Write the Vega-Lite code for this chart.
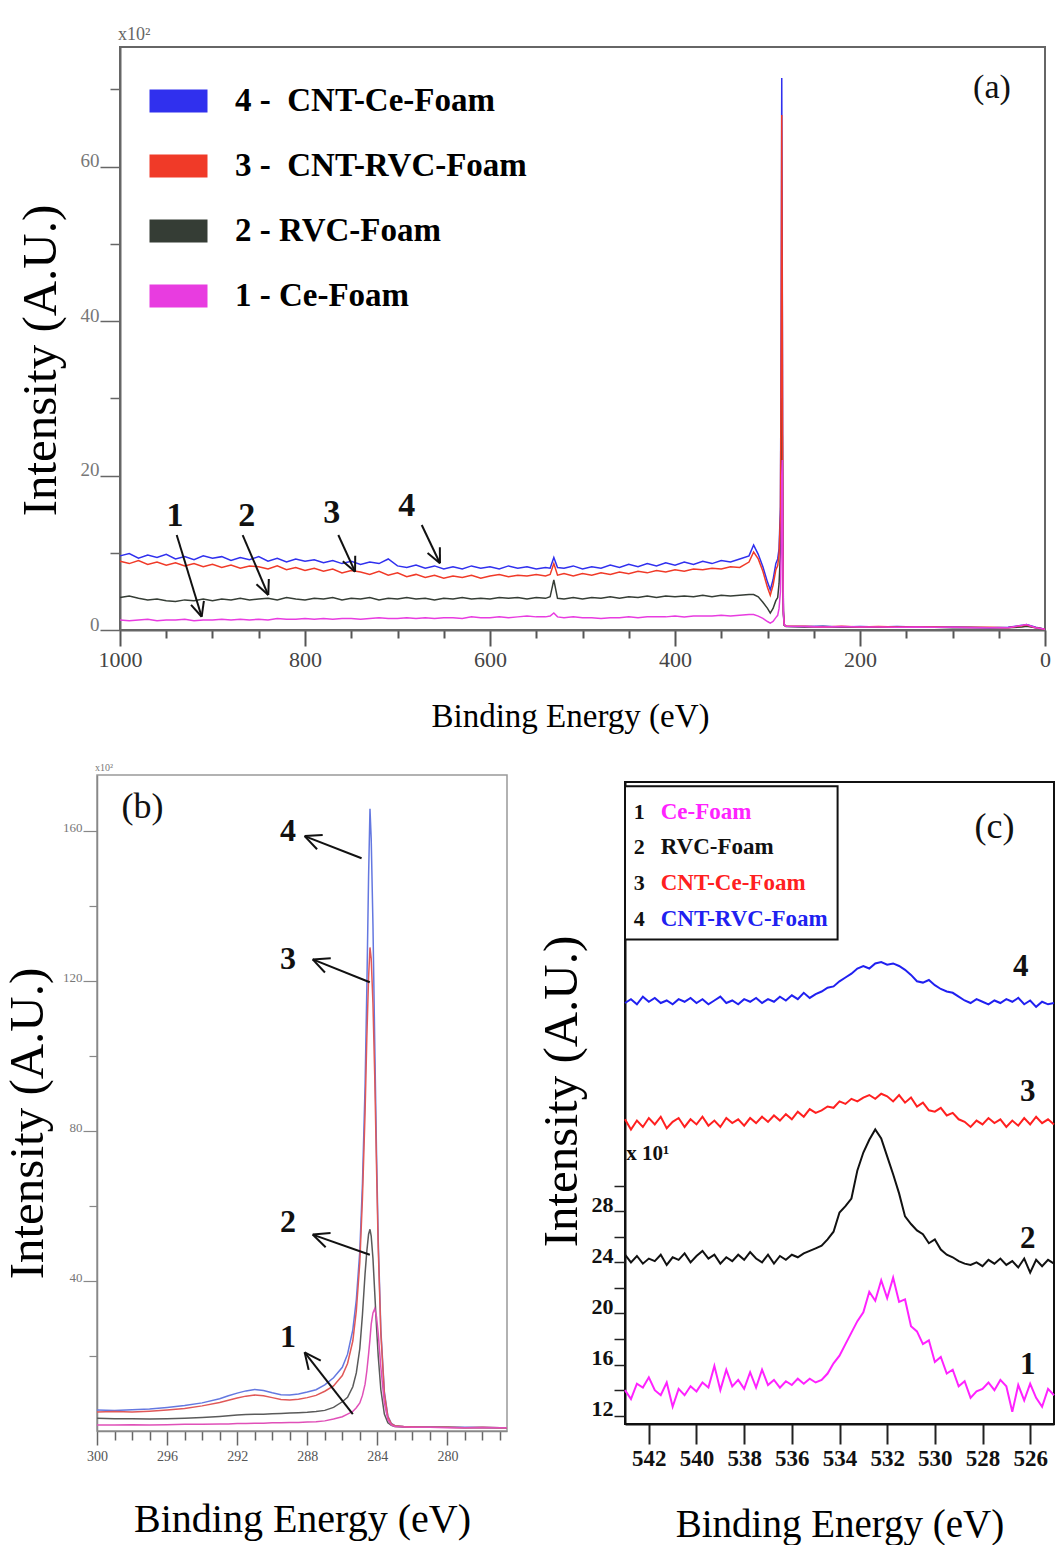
{
"$schema": "https://vega.github.io/schema/vega-lite/v6.json",
"padding": {"left": 2, "top": 25, "right": 0, "bottom": 0},
"config": {
 "view": {"stroke": null},
 "font": "Liberation Serif",
 "axis": {"grid": false, "labelFont": "Liberation Serif", "titleFont": "Liberation Serif", "titleFontWeight": "normal", "titleColor": "#000", "labelOverlap": false, "labelFlush": false},
 "text": {"font": "Liberation Serif"},
 "title": {"font": "Liberation Serif"}
},
"datasets": {
 "A": [
{"x":1000,"s4":9.6,"s3":8.9,"s2":4.2,"s1":1.3},
{"x":990,"s4":9.9,"s3":8.6,"s2":4.4,"s1":1.2},
{"x":980,"s4":9.3,"s3":9.0,"s2":4.1,"s1":1.3},
{"x":970,"s4":9.7,"s3":8.5,"s2":3.9,"s1":1.4},
{"x":960,"s4":9.4,"s3":8.8,"s2":4.0,"s1":1.2},
{"x":950,"s4":9.8,"s3":8.4,"s2":3.8,"s1":1.3},
{"x":940,"s4":9.2,"s3":8.7,"s2":3.7,"s1":1.3},
{"x":930,"s4":9.5,"s3":8.3,"s2":3.9,"s1":1.4},
{"x":920,"s4":9.1,"s3":8.6,"s2":3.8,"s1":1.2},
{"x":910,"s4":9.6,"s3":8.2,"s2":4.0,"s1":1.3},
{"x":900,"s4":9.3,"s3":8.5,"s2":3.8,"s1":1.3},
{"x":890,"s4":9.5,"s3":8.1,"s2":4.0,"s1":1.4},
{"x":880,"s4":9.0,"s3":8.4,"s2":3.9,"s1":1.3},
{"x":870,"s4":9.4,"s3":8.0,"s2":4.1,"s1":1.4},
{"x":860,"s4":9.1,"s3":8.3,"s2":3.9,"s1":1.3},
{"x":850,"s4":9.5,"s3":8.2,"s2":4.0,"s1":1.4},
{"x":840,"s4":8.9,"s3":7.9,"s2":4.1,"s1":1.3},
{"x":830,"s4":9.3,"s3":8.3,"s2":3.9,"s1":1.5},
{"x":820,"s4":8.8,"s3":7.8,"s2":4.2,"s1":1.4},
{"x":810,"s4":9.2,"s3":8.1,"s2":4.0,"s1":1.4},
{"x":800,"s4":8.9,"s3":7.7,"s2":3.9,"s1":1.5},
{"x":790,"s4":9.1,"s3":8.0,"s2":4.1,"s1":1.4},
{"x":780,"s4":8.7,"s3":7.6,"s2":4.0,"s1":1.5},
{"x":770,"s4":9.0,"s3":7.9,"s2":4.2,"s1":1.4},
{"x":760,"s4":8.6,"s3":7.4,"s2":3.9,"s1":1.5},
{"x":750,"s4":8.9,"s3":7.7,"s2":4.1,"s1":1.5},
{"x":740,"s4":8.5,"s3":7.5,"s2":4.0,"s1":1.4},
{"x":730,"s4":8.8,"s3":7.2,"s2":4.2,"s1":1.5},
{"x":720,"s4":8.6,"s3":7.6,"s2":3.9,"s1":1.6},
{"x":710,"s4":9.2,"s3":7.1,"s2":4.1,"s1":1.5},
{"x":700,"s4":8.3,"s3":7.4,"s2":4.0,"s1":1.5},
{"x":690,"s4":8.1,"s3":6.9,"s2":4.2,"s1":1.6},
{"x":680,"s4":8.4,"s3":7.2,"s2":4.0,"s1":1.5},
{"x":670,"s4":8.0,"s3":6.8,"s2":4.1,"s1":1.6},
{"x":660,"s4":8.3,"s3":7.1,"s2":3.9,"s1":1.5},
{"x":650,"s4":7.9,"s3":6.7,"s2":4.1,"s1":1.6},
{"x":640,"s4":8.2,"s3":7.0,"s2":4.0,"s1":1.6},
{"x":630,"s4":7.9,"s3":6.8,"s2":4.2,"s1":1.5},
{"x":620,"s4":8.3,"s3":7.1,"s2":4.0,"s1":1.7},
{"x":610,"s4":8.0,"s3":6.7,"s2":4.1,"s1":1.6},
{"x":600,"s4":8.2,"s3":7.0,"s2":4.0,"s1":1.6},
{"x":590,"s4":7.9,"s3":7.2,"s2":4.2,"s1":1.7},
{"x":580,"s4":8.3,"s3":6.9,"s2":4.1,"s1":1.6},
{"x":570,"s4":8.0,"s3":7.1,"s2":4.2,"s1":1.7},
{"x":560,"s4":8.2,"s3":7.0,"s2":4.0,"s1":1.8},
{"x":550,"s4":7.9,"s3":7.2,"s2":4.2,"s1":1.7},
{"x":540,"s4":8.1,"s3":7.0,"s2":4.1,"s1":1.7},
{"x":535,"s4":8.0,"s3":7.2,"s2":4.3,"s1":1.8},
{"x":531,"s4":9.4,"s3":8.6,"s2":6.5,"s1":2.2},
{"x":527,"s4":8.1,"s3":7.1,"s2":4.1,"s1":1.7},
{"x":520,"s4":8.0,"s3":7.3,"s2":4.0,"s1":1.6},
{"x":510,"s4":8.3,"s3":7.0,"s2":4.2,"s1":1.7},
{"x":500,"s4":7.9,"s3":7.3,"s2":4.0,"s1":1.6},
{"x":490,"s4":8.2,"s3":7.1,"s2":4.2,"s1":1.6},
{"x":480,"s4":8.0,"s3":7.4,"s2":4.1,"s1":1.5},
{"x":470,"s4":8.4,"s3":7.2,"s2":4.3,"s1":1.6},
{"x":460,"s4":8.1,"s3":7.5,"s2":4.1,"s1":1.6},
{"x":450,"s4":8.5,"s3":7.3,"s2":4.3,"s1":1.7},
{"x":440,"s4":8.2,"s3":7.6,"s2":4.2,"s1":1.6},
{"x":430,"s4":8.6,"s3":7.4,"s2":4.4,"s1":1.7},
{"x":420,"s4":8.3,"s3":7.7,"s2":4.2,"s1":1.7},
{"x":410,"s4":8.7,"s3":7.5,"s2":4.4,"s1":1.7},
{"x":400,"s4":8.4,"s3":7.8,"s2":4.3,"s1":1.8},
{"x":390,"s4":8.8,"s3":7.6,"s2":4.4,"s1":1.7},
{"x":380,"s4":8.5,"s3":7.9,"s2":4.3,"s1":1.8},
{"x":370,"s4":8.9,"s3":7.8,"s2":4.5,"s1":1.8},
{"x":360,"s4":8.6,"s3":8.0,"s2":4.3,"s1":1.8},
{"x":350,"s4":9.0,"s3":7.9,"s2":4.5,"s1":1.9},
{"x":340,"s4":8.8,"s3":8.2,"s2":4.4,"s1":1.8},
{"x":330,"s4":9.2,"s3":8.1,"s2":4.5,"s1":1.9},
{"x":320,"s4":9.6,"s3":8.8,"s2":4.6,"s1":2.0},
{"x":315,"s4":11.0,"s3":10.1,"s2":4.6,"s1":2.0},
{"x":310,"s4":9.8,"s3":9.2,"s2":4.3,"s1":1.8},
{"x":305,"s4":8.2,"s3":7.6,"s2":3.6,"s1":1.5},
{"x":300,"s4":6.2,"s3":5.5,"s2":2.8,"s1":1.1},
{"x":297,"s4":5.2,"s3":4.5,"s2":2.2,"s1":0.9},
{"x":294,"s4":6.5,"s3":5.8,"s2":2.8,"s1":1.1},
{"x":291,"s4":8.6,"s3":7.8,"s2":3.8,"s1":1.6},
{"x":289,"s4":9.2,"s3":8.3,"s2":4.2,"s1":1.9},
{"x":287.5,"s4":10.5,"s3":9.8,"s2":6.0,"s1":2.8},
{"x":286,"s4":16,"s3":15,"s2":10,"s1":5},
{"x":285.2,"s4":40,"s3":37,"s2":20,"s1":10},
{"x":284.6,"s4":71.5,"s3":66.7,"s2":30,"s1":20},
{"x":284.0,"s4":45,"s3":42,"s2":25,"s1":22},
{"x":283.4,"s4":12,"s3":11,"s2":8,"s1":9},
{"x":282.8,"s4":2.5,"s3":2.4,"s2":2.0,"s1":2.2},
{"x":282,"s4":0.7,"s3":0.7,"s2":0.6,"s1":0.7},
{"x":280,"s4":0.5,"s3":0.5,"s2":0.45,"s1":0.5},
{"x":260,"s4":0.45,"s3":0.5,"s2":0.4,"s1":0.45},
{"x":240,"s4":0.5,"s3":0.4,"s2":0.45,"s1":0.4},
{"x":220,"s4":0.4,"s3":0.5,"s2":0.4,"s1":0.45},
{"x":200,"s4":0.45,"s3":0.4,"s2":0.4,"s1":0.4},
{"x":180,"s4":0.4,"s3":0.45,"s2":0.35,"s1":0.4},
{"x":160,"s4":0.45,"s3":0.4,"s2":0.4,"s1":0.35},
{"x":140,"s4":0.4,"s3":0.4,"s2":0.35,"s1":0.4},
{"x":120,"s4":0.35,"s3":0.4,"s2":0.35,"s1":0.35},
{"x":100,"s4":0.4,"s3":0.35,"s2":0.3,"s1":0.35},
{"x":80,"s4":0.35,"s3":0.35,"s2":0.3,"s1":0.3},
{"x":60,"s4":0.3,"s3":0.35,"s2":0.3,"s1":0.3},
{"x":40,"s4":0.35,"s3":0.3,"s2":0.3,"s1":0.3},
{"x":25,"s4":0.6,"s3":0.55,"s2":0.4,"s1":0.6},
{"x":20,"s4":0.7,"s3":0.65,"s2":0.5,"s1":0.7},
{"x":10,"s4":0.35,"s3":0.3,"s2":0.3,"s1":0.3},
{"x":0,"s4":0.1,"s3":0.1,"s2":0.1,"s1":0.1}
 ],
 "B": [
{"x":300,"s4":5.6,"s3":5.1,"s2":3.4,"s1":1.6},
{"x":299,"s4":5.5,"s3":5.2,"s2":3.3,"s1":1.6},
{"x":298,"s4":5.7,"s3":5.1,"s2":3.3,"s1":1.7},
{"x":297,"s4":5.9,"s3":5.3,"s2":3.2,"s1":1.6},
{"x":296,"s4":6.3,"s3":5.6,"s2":3.3,"s1":1.7},
{"x":295,"s4":6.8,"s3":6.0,"s2":3.4,"s1":1.8},
{"x":294,"s4":7.5,"s3":6.7,"s2":3.6,"s1":1.8},
{"x":293,"s4":8.6,"s3":7.6,"s2":3.9,"s1":1.9},
{"x":292.5,"s4":9.4,"s3":8.2,"s2":4.1,"s1":1.9},
{"x":292,"s4":10.1,"s3":8.8,"s2":4.3,"s1":2.0},
{"x":291.5,"s4":10.7,"s3":9.3,"s2":4.4,"s1":2.0},
{"x":291,"s4":11.1,"s3":9.6,"s2":4.5,"s1":2.1},
{"x":290.5,"s4":10.8,"s3":9.4,"s2":4.5,"s1":2.1},
{"x":290,"s4":10.2,"s3":8.9,"s2":4.6,"s1":2.2},
{"x":289.5,"s4":9.7,"s3":8.4,"s2":4.7,"s1":2.2},
{"x":289,"s4":9.6,"s3":8.3,"s2":4.8,"s1":2.3},
{"x":288.5,"s4":9.9,"s3":8.5,"s2":4.9,"s1":2.3},
{"x":288,"s4":10.4,"s3":8.9,"s2":5.0,"s1":2.4},
{"x":287.5,"s4":11.0,"s3":9.5,"s2":5.2,"s1":2.5},
{"x":287,"s4":12.3,"s3":10.6,"s2":5.5,"s1":2.7},
{"x":286.5,"s4":14.2,"s3":12.0,"s2":6.3,"s1":3.2},
{"x":286,"s4":17.0,"s3":14.8,"s2":7.8,"s1":3.8},
{"x":285.7,"s4":20.5,"s3":18.0,"s2":9.0,"s1":4.5},
{"x":285.4,"s4":27,"s3":24,"s2":11.8,"s1":5.2},
{"x":285.2,"s4":35,"s3":32,"s2":15.5,"s1":6.2},
{"x":285.0,"s4":48,"s3":45,"s2":22,"s1":7.5},
{"x":284.85,"s4":66,"s3":62,"s2":31,"s1":9.5},
{"x":284.7,"s4":92,"s3":85,"s2":42,"s1":12.5},
{"x":284.6,"s4":118,"s3":105,"s2":48,"s1":16},
{"x":284.5,"s4":148,"s3":121,"s2":52.5,"s1":20.5},
{"x":284.42,"s4":166,"s3":129,"s2":53.8,"s1":24.5},
{"x":284.35,"s4":158,"s3":126,"s2":52,"s1":28.5},
{"x":284.25,"s4":135,"s3":114,"s2":46,"s1":31.5},
{"x":284.15,"s4":104,"s3":95,"s2":37,"s1":32.6},
{"x":284.05,"s4":75,"s3":71,"s2":28,"s1":30.5},
{"x":283.95,"s4":51,"s3":49,"s2":20,"s1":26},
{"x":283.8,"s4":27,"s3":26,"s2":11,"s1":17},
{"x":283.6,"s4":10.5,"s3":10,"s2":4.5,"s1":7.5},
{"x":283.4,"s4":4.0,"s3":3.8,"s2":2.2,"s1":3.0},
{"x":283.2,"s4":2.0,"s3":1.9,"s2":1.5,"s1":1.6},
{"x":283.0,"s4":1.4,"s3":1.4,"s2":1.2,"s1":1.2},
{"x":282.5,"s4":1.2,"s3":1.2,"s2":1.1,"s1":1.1},
{"x":282,"s4":1.1,"s3":1.1,"s2":1.0,"s1":1.0},
{"x":281,"s4":1.1,"s3":1.0,"s2":1.0,"s1":1.0},
{"x":280,"s4":1.0,"s3":1.0,"s2":1.0,"s1":0.9},
{"x":279,"s4":1.0,"s3":0.9,"s2":0.9,"s1":0.9},
{"x":278,"s4":1.0,"s3":1.0,"s2":0.9,"s1":0.9},
{"x":277,"s4":0.9,"s3":0.9,"s2":0.9,"s1":0.9},
{"x":276.6,"s4":0.9,"s3":0.9,"s2":0.9,"s1":0.9}
 ],
 "C": [
{"x":543.00,"s4":44.3,"s3":35.2,"s2":24.6,"s1":14.0},
{"x":542.75,"s4":44.6,"s3":34.4,"s2":24.0,"s1":13.3},
{"x":542.50,"s4":44.2,"s3":35.1,"s2":24.5,"s1":14.5},
{"x":542.25,"s4":44.8,"s3":34.6,"s2":23.9,"s1":14.2},
{"x":542.00,"s4":44.4,"s3":35.3,"s2":24.3,"s1":15.0},
{"x":541.75,"s4":44.7,"s3":34.8,"s2":24.1,"s1":14.0},
{"x":541.50,"s4":44.3,"s3":35.4,"s2":24.6,"s1":13.6},
{"x":541.25,"s4":44.5,"s3":34.5,"s2":23.8,"s1":14.6},
{"x":541.00,"s4":44.2,"s3":35.0,"s2":24.4,"s1":12.7},
{"x":540.75,"s4":44.6,"s3":35.3,"s2":24.2,"s1":14.1},
{"x":540.50,"s4":44.4,"s3":34.6,"s2":24.7,"s1":13.6},
{"x":540.25,"s4":44.7,"s3":35.2,"s2":24.0,"s1":14.3},
{"x":540.00,"s4":44.3,"s3":34.8,"s2":24.5,"s1":13.9},
{"x":539.75,"s4":44.6,"s3":35.4,"s2":24.9,"s1":14.6},
{"x":539.50,"s4":44.2,"s3":34.7,"s2":24.3,"s1":14.2},
{"x":539.25,"s4":44.5,"s3":35.1,"s2":24.6,"s1":15.9},
{"x":539.00,"s4":44.8,"s3":34.6,"s2":23.9,"s1":14.0},
{"x":538.75,"s4":44.3,"s3":35.3,"s2":24.4,"s1":15.6},
{"x":538.50,"s4":44.5,"s3":34.9,"s2":24.1,"s1":14.3},
{"x":538.25,"s4":44.2,"s3":35.2,"s2":24.6,"s1":14.8},
{"x":538.00,"s4":44.6,"s3":34.7,"s2":24.2,"s1":14.1},
{"x":537.75,"s4":44.4,"s3":35.3,"s2":24.8,"s1":15.4},
{"x":537.50,"s4":44.7,"s3":34.9,"s2":24.3,"s1":14.2},
{"x":537.25,"s4":44.3,"s3":35.4,"s2":24.0,"s1":15.6},
{"x":537.00,"s4":44.6,"s3":35.0,"s2":24.6,"s1":14.4},
{"x":536.75,"s4":44.4,"s3":35.5,"s2":23.9,"s1":14.8},
{"x":536.50,"s4":44.8,"s3":35.1,"s2":24.5,"s1":14.2},
{"x":536.25,"s4":44.5,"s3":35.6,"s2":24.2,"s1":14.7},
{"x":536.00,"s4":44.9,"s3":35.2,"s2":24.6,"s1":14.4},
{"x":535.75,"s4":44.6,"s3":35.8,"s2":24.4,"s1":14.9},
{"x":535.50,"s4":45.1,"s3":35.4,"s2":24.7,"s1":14.5},
{"x":535.25,"s4":44.7,"s3":36.0,"s2":24.9,"s1":14.9},
{"x":535.00,"s4":45.0,"s3":35.7,"s2":25.1,"s1":14.6},
{"x":534.75,"s4":45.2,"s3":35.9,"s2":25.3,"s1":14.8},
{"x":534.50,"s4":45.5,"s3":36.2,"s2":25.8,"s1":15.3},
{"x":534.25,"s4":45.6,"s3":36.1,"s2":26.4,"s1":16.1},
{"x":534.00,"s4":46.0,"s3":36.6,"s2":27.9,"s1":16.7},
{"x":533.75,"s4":46.3,"s3":36.4,"s2":28.4,"s1":17.6},
{"x":533.50,"s4":46.6,"s3":36.8,"s2":29.0,"s1":18.5},
{"x":533.25,"s4":47.0,"s3":36.6,"s2":31.2,"s1":19.4},
{"x":533.00,"s4":47.2,"s3":36.9,"s2":32.6,"s1":20.1},
{"x":532.75,"s4":47.0,"s3":37.1,"s2":33.6,"s1":21.7},
{"x":532.50,"s4":47.4,"s3":36.8,"s2":34.4,"s1":21.0},
{"x":532.25,"s4":47.5,"s3":37.2,"s2":33.7,"s1":22.6},
{"x":532.00,"s4":47.3,"s3":37.0,"s2":32.3,"s1":21.2},
{"x":531.75,"s4":47.4,"s3":36.6,"s2":30.9,"s1":22.8},
{"x":531.50,"s4":47.2,"s3":37.1,"s2":29.4,"s1":20.9},
{"x":531.25,"s4":46.9,"s3":36.5,"s2":27.6,"s1":21.1},
{"x":531.00,"s4":46.5,"s3":36.9,"s2":27.0,"s1":19.0},
{"x":530.75,"s4":46.0,"s3":36.2,"s2":26.5,"s1":18.6},
{"x":530.50,"s4":45.9,"s3":36.5,"s2":26.2,"s1":17.6},
{"x":530.25,"s4":46.1,"s3":35.9,"s2":25.5,"s1":17.9},
{"x":530.00,"s4":45.7,"s3":35.8,"s2":25.8,"s1":16.2},
{"x":529.75,"s4":45.4,"s3":36.1,"s2":25.0,"s1":16.6},
{"x":529.50,"s4":45.2,"s3":35.5,"s2":24.6,"s1":15.3},
{"x":529.25,"s4":45.1,"s3":35.7,"s2":24.4,"s1":15.6},
{"x":529.00,"s4":44.8,"s3":35.2,"s2":24.1,"s1":14.3},
{"x":528.75,"s4":44.5,"s3":35.0,"s2":23.9,"s1":14.7},
{"x":528.50,"s4":44.3,"s3":34.6,"s2":23.8,"s1":13.4},
{"x":528.25,"s4":44.6,"s3":35.1,"s2":24.0,"s1":13.9},
{"x":528.00,"s4":44.4,"s3":34.8,"s2":23.7,"s1":14.1},
{"x":527.75,"s4":44.2,"s3":35.3,"s2":24.2,"s1":14.6},
{"x":527.50,"s4":44.5,"s3":34.9,"s2":23.9,"s1":14.0},
{"x":527.25,"s4":44.3,"s3":35.2,"s2":24.3,"s1":14.8},
{"x":527.00,"s4":44.6,"s3":34.6,"s2":23.8,"s1":14.3},
{"x":526.75,"s4":44.4,"s3":35.1,"s2":24.1,"s1":12.3},
{"x":526.50,"s4":44.7,"s3":34.7,"s2":23.6,"s1":14.4},
{"x":526.25,"s4":44.2,"s3":35.3,"s2":24.3,"s1":13.2},
{"x":526.00,"s4":44.5,"s3":34.8,"s2":23.2,"s1":14.5},
{"x":525.75,"s4":44.0,"s3":35.4,"s2":24.2,"s1":13.4},
{"x":525.50,"s4":44.4,"s3":34.9,"s2":23.7,"s1":12.7},
{"x":525.25,"s4":44.2,"s3":35.2,"s2":24.2,"s1":14.1},
{"x":525.00,"s4":44.3,"s3":34.8,"s2":23.9,"s1":13.6}
 ]
},
"vconcat": [
 {
  "hconcat": [
   {"width": 3, "height": 10, "data": {"values": [{"a": 1}]}, "mark": {"type": "point", "opacity": 0}},
   {
    "width": 925, "height": 583,
    "view": {"stroke": "#666", "strokeWidth": 2},
    "title": {"text": "x10²", "anchor": "start", "frame": "group", "fontSize": 18, "fontWeight": "normal", "color": "#666", "offset": 3, "dx": -2},
    "layer": [
     {
      "data": {"name": "A"},
      "transform": [{"fold": ["s4", "s2", "s3", "s1"], "as": ["s", "v"]}],
      "mark": {"type": "line", "strokeWidth": 1.5},
      "encoding": {
       "x": {"field": "x", "type": "quantitative", "scale": {"domain": [0, 1000], "reverse": true, "nice": false, "zero": false},
        "axis": {"title": "Binding Energy (eV)", "values": [0,50,100,150,200,250,300,350,400,450,500,550,600,650,700,750,800,850,900,950,1000], "tickCount": 40,
         "labelExpr": "datum.value % 200 === 0 ? datum.value : ''",
         "tickSize": {"condition": {"test": "datum.value % 200 !== 0", "value": 8}, "value": 16},
         "labelFontSize": 22, "labelColor": "#444", "labelPadding": 3, "titleFontSize": 33, "titlePadding": 30, "titleX": 450,
         "domainColor": "#666", "domainWidth": 2, "tickColor": "#555", "tickWidth": 2}},
       "y": {"field": "v", "type": "quantitative", "scale": {"domain": [0, 75.5], "nice": false},
        "axis": {"title": "Intensity (A.U.)", "values": [0,10,20,30,40,50,60,70], "tickCount": 20,
         "labelExpr": "datum.value % 20 === 0 ? datum.value : ''",
         "tickSize": {"condition": {"test": "datum.value % 20 !== 0", "value": 10}, "value": 20},
         "labelFontSize": 19, "labelColor": "#777", "labelBaseline": "alphabetic", "labelPadding": 1,
         "titleFontSize": 49, "titlePadding": 15, "titleY": 313, "domainColor": "#666", "domainWidth": 2, "tickColor": "#666", "tickWidth": 1.5}},
       "color": {"field": "s", "type": "nominal",
        "scale": {"domain": ["s4", "s3", "s2", "s1"], "range": ["#3030ee", "#f03a28", "#353d35", "#e83ce0"]},
        "legend": {"orient": "none", "legendX": 18, "legendY": 24, "title": null, "symbolType": "stroke", "symbolSize": 3364, "symbolStrokeWidth": 23,
         "labelFontSize": 33, "labelFontWeight": "bold", "labelColor": "#000", "labelFont": "Liberation Serif", "labelOffset": 16, "rowPadding": 5, "clipHeight": 60, "labelLimit": 0,
         "labelExpr": "{'s4':'4 -\u00a0 CNT-Ce-Foam','s3':'3 -\u00a0 CNT-RVC-Foam','s2':'2 - RVC-Foam','s1':'1 - Ce-Foam'}[datum.label]",
         "encode": {"symbols": {"update": {"strokeWidth": {"value": 23}}}}}}
      }
     },
     {
      "data": {"values": [
       {"x": 938.7, "y": 12.3, "x2": 911.7, "y2": 1.72}, {"x": 911.7, "y": 1.72, "x2": 909.3, "y2": 3.78}, {"x": 911.7, "y": 1.72, "x2": 923.2, "y2": 3.26},
       {"x": 867.4, "y": 12.3, "x2": 839.7, "y2": 4.53}, {"x": 839.7, "y": 4.53, "x2": 839.1, "y2": 6.61}, {"x": 839.7, "y": 4.53, "x2": 852.5, "y2": 5.92},
       {"x": 764.0, "y": 12.3, "x2": 745.9, "y2": 7.55}, {"x": 745.9, "y": 7.55, "x2": 745.7, "y2": 9.62}, {"x": 745.9, "y": 7.55, "x2": 759.1, "y2": 8.9},
       {"x": 673.8, "y": 13.6, "x2": 654.1, "y2": 8.64}, {"x": 654.1, "y": 8.64, "x2": 654.2, "y2": 10.71}, {"x": 654.1, "y": 8.64, "x2": 667.5, "y2": 9.96}
      ]},
      "mark": {"type": "rule", "strokeWidth": 2, "color": "#111"},
      "encoding": {"x": {"field": "x", "type": "quantitative"}, "y": {"field": "y", "type": "quantitative"}, "x2": {"field": "x2"}, "y2": {"field": "y2"}}
     },
     {
      "data": {"values": [{"x": 940.5, "y": 14.7, "t": "1"}, {"x": 863.0, "y": 14.7, "t": "2"}, {"x": 771.1, "y": 15.1, "t": "3"}, {"x": 690.1, "y": 16.0, "t": "4"}]},
      "mark": {"type": "text", "fontSize": 34, "fontWeight": "bold", "color": "#111", "align": "center", "baseline": "middle"},
      "encoding": {"x": {"field": "x", "type": "quantitative"}, "y": {"field": "y", "type": "quantitative"}, "text": {"field": "t"}}
     },
     {
      "data": {"values": [{"x": 57.3, "y": 70.2, "t": "(a)"}]},
      "mark": {"type": "text", "fontSize": 34, "color": "#111", "align": "center", "baseline": "middle"},
      "encoding": {"x": {"field": "x", "type": "quantitative"}, "y": {"field": "y", "type": "quantitative"}, "text": {"field": "t"}}
     }
    ]
   }
  ],
  "spacing": 20, "bounds": "flush",
  "resolve": {"scale": {"color": "independent"}, "legend": {"color": "independent"}}
 },
 {
  "hconcat": [
   {
    "width": 410, "height": 656,
    "view": {"stroke": "#999", "strokeWidth": 1.5},
    "title": {"text": "x10²", "anchor": "start", "frame": "group", "fontSize": 10, "fontWeight": "normal", "color": "#777", "offset": 2, "dx": -2},
    "layer": [
     {
      "data": {"name": "B"},
      "transform": [{"fold": ["s4", "s2", "s3", "s1"], "as": ["s", "v"]}],
      "mark": {"type": "line", "strokeWidth": 1.5},
      "encoding": {
       "x": {"field": "x", "type": "quantitative", "scale": {"domain": [276.6, 300], "reverse": true, "nice": false, "zero": false},
        "axis": {"title": "Binding Energy (eV)", "values": [277,278,279,280,281,282,283,284,285,286,287,288,289,290,291,292,293,294,295,296,297,298,299,300], "tickCount": 40,
         "labelExpr": "datum.value % 4 === 0 ? datum.value : ''",
         "tickSize": {"condition": {"test": "datum.value % 4 !== 0", "value": 9}, "value": 14},
         "labelFontSize": 14, "labelColor": "#555", "labelPadding": 4, "titleFontSize": 40, "titlePadding": 36,
         "domainColor": "#888", "domainWidth": 1.5, "tickColor": "#666", "tickWidth": 1.5}},
       "y": {"field": "v", "type": "quantitative", "scale": {"domain": [0, 175], "nice": false},
        "axis": {"title": "Intensity (A.U.)", "values": [20,40,60,80,100,120,140,160], "tickCount": 20,
         "labelExpr": "datum.value % 40 === 0 ? datum.value : ''",
         "tickSize": {"condition": {"test": "datum.value % 40 !== 0", "value": 8}, "value": 14},
         "labelFontSize": 13, "labelColor": "#777", "labelBaseline": "alphabetic", "labelPadding": 1,
         "titleFontSize": 49, "titlePadding": 10, "titleY": 348, "domainColor": "#888", "domainWidth": 1.5, "tickColor": "#888", "tickWidth": 1.2}},
       "color": {"field": "s", "type": "nominal",
        "scale": {"domain": ["s4", "s3", "s2", "s1"], "range": ["#6478e0", "#e05858", "#5a5a5a", "#e050b8"]}, "legend": null}
      }
     },
     {
      "data": {"values": [
       {"x": 284.9, "y": 152.8, "x2": 288.15, "y2": 158.7}, {"x": 288.15, "y": 158.7, "x2": 287.44, "y2": 155.2}, {"x": 288.15, "y": 158.7, "x2": 287.12, "y2": 159.0},
       {"x": 284.43, "y": 119.7, "x2": 287.69, "y2": 125.8}, {"x": 287.69, "y": 125.8, "x2": 286.99, "y2": 122.3}, {"x": 287.69, "y": 125.8, "x2": 286.66, "y2": 126.1},
       {"x": 284.43, "y": 47.0, "x2": 287.69, "y2": 52.4}, {"x": 287.69, "y": 52.4, "x2": 286.95, "y2": 49.0}, {"x": 287.69, "y": 52.4, "x2": 286.67, "y2": 52.8},
       {"x": 285.4, "y": 4.5, "x2": 288.15, "y2": 21.0}, {"x": 288.15, "y": 21.0, "x2": 287.92, "y2": 16.3}, {"x": 288.15, "y": 21.0, "x2": 287.23, "y2": 18.8}
      ]},
      "mark": {"type": "rule", "strokeWidth": 2, "color": "#111"},
      "encoding": {"x": {"field": "x", "type": "quantitative"}, "y": {"field": "y", "type": "quantitative"}, "x2": {"field": "x2"}, "y2": {"field": "y2"}}
     },
     {
      "data": {"values": [{"x": 289.1, "y": 160, "t": "4"}, {"x": 289.1, "y": 125.8, "t": "3"}, {"x": 289.1, "y": 55.8, "t": "2"}, {"x": 289.1, "y": 25.1, "t": "1"}]},
      "mark": {"type": "text", "fontSize": 32, "fontWeight": "bold", "color": "#111", "align": "center", "baseline": "middle"},
      "encoding": {"x": {"field": "x", "type": "quantitative"}, "y": {"field": "y", "type": "quantitative"}, "text": {"field": "t"}}
     },
     {
      "data": {"values": [{"x": 297.4, "y": 166.4, "t": "(b)"}]},
      "mark": {"type": "text", "fontSize": 36, "color": "#111", "align": "center", "baseline": "middle"},
      "encoding": {"x": {"field": "x", "type": "quantitative"}, "y": {"field": "y", "type": "quantitative"}, "text": {"field": "t"}}
     }
    ]
   },
   {
    "width": 429, "height": 642,
    "view": {"stroke": "#111", "strokeWidth": 2},
    "layer": [
     {
      "data": {"name": "C"},
      "transform": [{"fold": ["s4", "s3", "s2", "s1"], "as": ["s", "v"]}],
      "mark": {"type": "line", "strokeWidth": 2},
      "encoding": {
       "x": {"field": "x", "type": "quantitative", "scale": {"domain": [525, 543], "reverse": true, "nice": false, "zero": false},
        "axis": {"title": "Binding Energy (eV)", "values": [526,528,530,532,534,536,538,540,542], "tickCount": 20,
         "tickSize": 20, "labelFontSize": 23, "labelFontWeight": "bold", "labelColor": "#111", "labelPadding": 3, "titleFontSize": 39, "titlePadding": 35,
         "domainColor": "#111", "domainWidth": 2, "tickColor": "#222", "tickWidth": 2}},
       "y": {"field": "v", "type": "quantitative", "scale": {"domain": [11.35, 61.6], "nice": false},
        "axis": {"title": "Intensity (A.U.)", "values": [12,14,16,18,20,22,24,26,28,30], "tickCount": 20,
         "labelExpr": "datum.value % 4 === 0 ? datum.value : ''",
         "tickSize": 11, "labelFontSize": 22, "labelFontWeight": "bold", "labelColor": "#111", "labelBaseline": "alphabetic", "labelPadding": 1,
         "titleFontSize": 49, "titlePadding": 5, "titleY": 309, "domainColor": "#111", "domainWidth": 2, "tickColor": "#222", "tickWidth": 1.5}},
       "color": {"field": "s", "type": "nominal",
        "scale": {"domain": ["s1", "s2", "s3", "s4"], "range": ["#ff22ff", "#111111", "#ff2020", "#2020f0"]}, "legend": null}
      }
     },
     {
      "data": {"values": [{"x": 543, "x2": 534.08, "y": 61.27, "y2": 49.27}]},
      "mark": {"type": "rect", "fill": "#fff", "stroke": "#111", "strokeWidth": 2},
      "encoding": {"x": {"field": "x", "type": "quantitative"}, "x2": {"field": "x2"}, "y": {"field": "y", "type": "quantitative"}, "y2": {"field": "y2"}}
     },
     {
      "data": {"values": [{"x": 542.4, "y": 59.25, "t": "1"}, {"x": 542.4, "y": 56.48, "t": "2"}, {"x": 542.4, "y": 53.73, "t": "3"}, {"x": 542.4, "y": 50.85, "t": "4"}]},
      "mark": {"type": "text", "fontSize": 22, "fontWeight": "bold", "color": "#111", "align": "center", "baseline": "middle"},
      "encoding": {"x": {"field": "x", "type": "quantitative"}, "y": {"field": "y", "type": "quantitative"}, "text": {"field": "t"}}
     },
     {
      "data": {"values": [{"x": 541.5, "y": 59.25, "s": "s1", "t": "Ce-Foam"}, {"x": 541.5, "y": 56.48, "s": "s2", "t": "RVC-Foam"}, {"x": 541.5, "y": 53.73, "s": "s3", "t": "CNT-Ce-Foam"}, {"x": 541.5, "y": 50.85, "s": "s4", "t": "CNT-RVC-Foam"}]},
      "mark": {"type": "text", "fontSize": 23, "fontWeight": "bold", "align": "left", "baseline": "middle"},
      "encoding": {"x": {"field": "x", "type": "quantitative"}, "y": {"field": "y", "type": "quantitative"}, "text": {"field": "t"}, "color": {"field": "s", "type": "nominal", "legend": null}}
     },
     {
      "data": {"values": [{"x": 526.4, "y": 47.1, "t": "4"}, {"x": 526.1, "y": 37.3, "t": "3"}, {"x": 526.1, "y": 25.8, "t": "2"}, {"x": 526.1, "y": 16.0, "t": "1"}]},
      "mark": {"type": "text", "fontSize": 31, "fontWeight": "bold", "color": "#111", "align": "center", "baseline": "middle"},
      "encoding": {"x": {"field": "x", "type": "quantitative"}, "y": {"field": "y", "type": "quantitative"}, "text": {"field": "t"}}
     },
     {
      "data": {"values": [{"x": 527.5, "y": 58.1, "t": "(c)"}]},
      "mark": {"type": "text", "fontSize": 36, "color": "#111", "align": "center", "baseline": "middle"},
      "encoding": {"x": {"field": "x", "type": "quantitative"}, "y": {"field": "y", "type": "quantitative"}, "text": {"field": "t"}}
     },
     {
      "data": {"values": [{"x": 542.95, "y": 32.5, "t": "x 10¹"}]},
      "mark": {"type": "text", "fontSize": 21, "fontWeight": "bold", "color": "#111", "align": "left", "baseline": "middle"},
      "encoding": {"x": {"field": "x", "type": "quantitative"}, "y": {"field": "y", "type": "quantitative"}, "text": {"field": "t"}}
     }
    ]
   }
  ],
  "spacing": 118, "bounds": "flush", "center": true,
  "resolve": {"scale": {"color": "independent"}, "legend": {"color": "independent"}}
 }
],
"spacing": 28, "bounds": "full",
"resolve": {"scale": {"color": "independent"}, "legend": {"color": "independent"}}
}
